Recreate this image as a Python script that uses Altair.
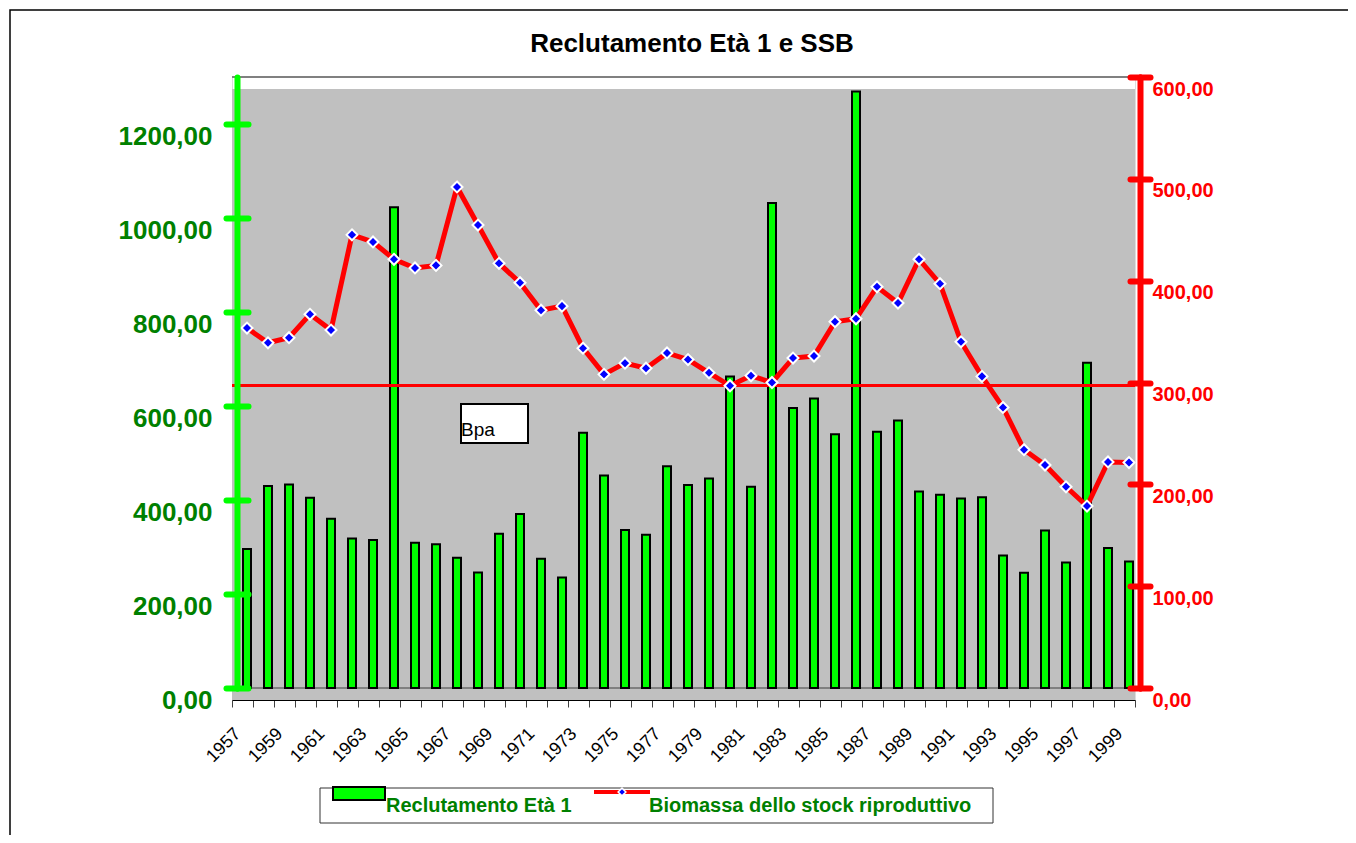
import altair as alt
import pandas as pd

# ---------------- data ----------------
years = ["1957", "1958", "1959", "1960", "1961", "1962", "1963", "1964", "1965", "1966",
         "1967", "1968", "1969", "1970", "1971", "1972", "1973", "1974", "1975", "1976",
         "1977", "1978", "1979", "1980", "1981", "1982", "1983", "1984", "1985", "1986",
         "1987", "1988", "1989", "1990", "1991", "1992", "1993", "1994", "1995", "1996",
         "1997", "1998", "1999"]
recruits = [296, 430, 433, 405, 360, 318, 315, 1023, 309, 306,
            277, 246, 328, 370, 275, 235, 543, 452, 336, 326,
            472, 432, 446, 663, 428, 1032, 596, 616, 540, 1269,
            545, 569, 418, 411, 403, 406, 282, 245, 335, 267,
            692, 298, 269]
ssb = [353.5, 339, 344, 367, 351.5, 445, 438, 421, 412.5, 415,
       492, 454.6, 417, 398, 371, 375, 333.7, 308, 319, 314,
       329, 322.5, 309.5, 296.8, 306.6, 300, 324, 326, 359.7, 362.6,
       394, 378, 421, 397, 340, 306, 275.5, 234, 219, 197.6,
       178.7, 222, 221.4]
bpa_value = 297
bpa_label = "Bpa"
left_ticks = [0, 200, 400, 600, 800, 1000, 1200]
right_ticks = [0, 100, 200, 300, 400, 500, 600]
left_domain = [0, 1300]
right_domain = [0, 600]
chart_title = "Reclutamento Età 1 e SSB"
series_names = ["Reclutamento Età 1", "Biomassa dello stock riproduttivo"]

df = pd.DataFrame({"year": years, "recruits": recruits, "ssb": ssb})
one = pd.DataFrame({"k": [0]})

W, H = 903, 623
YR = [611, 0]
FONT = "Liberation Sans"
GREEN = "#00FF00"
DGREEN = "#008000"
RED = "#FF0000"
FMT = "replace(format(datum.value, '.2f'), '.', ',')"

X = alt.X("year:O", title=None,
          scale=alt.Scale(paddingInner=0, paddingOuter=0),
          axis=alt.Axis(tickBand="extent", labelAngle=-45, labelAlign="right",
                        labelBaseline="middle", labelFontSize=18, labelColor="black",
                        labelExpr="toNumber(datum.value) % 2 == 1 ? datum.value : ''",
                        domainColor="black", domainWidth=1, tickColor="#404040",
                        tickSize=7, labelPadding=24, labelOffset=-5, labelFont=FONT,
                        zindex=1))

left_scale = alt.Scale(domain=left_domain, range=YR, nice=False, zero=True)
right_scale = alt.Scale(domain=right_domain, range=YR, nice=False, zero=True)

# ---------------- background ----------------
border = alt.Chart(one).mark_rect(fill=None, stroke="black", strokeWidth=1.5).encode(
    x=alt.value(-222), x2=alt.value(1400), y=alt.value(-67), y2=alt.value(900))
graybg = alt.Chart(one).mark_rect(color="#C0C0C0").encode(
    x=alt.value(0), x2=alt.value(W), y=alt.value(12), y2=alt.value(H))
topline = alt.Chart(one).mark_rule(color="#808080", strokeWidth=2).encode(
    x=alt.value(0), x2=alt.value(W), y=alt.value(0))
title = alt.Chart(one).mark_text(fontSize=26, fontWeight="bold", font=FONT, color="black",
                                 align="center", baseline="alphabetic").encode(
    x=alt.value(460), y=alt.value(-25), text=alt.value(chart_title))

# zero line on a copy of the left scale (its axis supplies inner tick halves)
zero = alt.Chart(one).mark_rule(color="#808080", strokeWidth=2).encode(
    y=alt.YDatum(0, type="quantitative", scale=left_scale,
                 axis=alt.Axis(orient="left", offset=-16, values=left_ticks, labels=False,
                               domain=False, tickColor=GREEN, tickWidth=6, tickSize=11,
                               tickCap="round", title=None, zindex=1)))

bars = alt.Chart(df).mark_bar(size=8, color=GREEN, stroke="black", strokeWidth=2,
                              xOffset=4.5).encode(
    x=X,
    y=alt.Y("recruits:Q", scale=left_scale, title=None,
            axis=alt.Axis(orient="left", offset=-5, values=left_ticks, labelExpr=FMT,
                          domainColor=GREEN, domainWidth=6, domainCap="round",
                          tickColor=GREEN, tickWidth=6, tickSize=11, tickCap="round",
                          labelColor=DGREEN, labelFontSize=26, labelFontWeight="bold",
                          labelFont=FONT, labelPadding=14, labelOffset=12, grid=False,
                          zindex=1)))

bpa = alt.Chart(one).mark_rule(color=RED, strokeWidth=3).encode(
    y=alt.YDatum(bpa_value, type="quantitative", scale=right_scale,
                 axis=alt.Axis(orient="right", offset=-5, values=right_ticks, labels=False,
                               domain=False, tickColor=RED, tickWidth=6, tickSize=10,
                               tickCap="round", title=None, zindex=1)))

line = alt.Chart(df).mark_line(color=RED, strokeWidth=5, xOffset=4.5).encode(
    x=X,
    y=alt.Y("ssb:Q", scale=right_scale, title=None,
            axis=alt.Axis(orient="right", offset=5, values=right_ticks, labelExpr=FMT,
                          domainColor=RED, domainWidth=6, domainCap="round",
                          tickColor=RED, tickWidth=6, tickSize=10, tickCap="round",
                          labelColor=RED, labelFontSize=20, labelFontWeight="bold",
                          labelFont=FONT, labelPadding=2, labelOffset=12, grid=False,
                          zindex=1)))

points = alt.Chart(df).mark_point(shape="diamond", filled=True, fill="#0000FF", stroke="white",
                                  strokeWidth=2, size=120, opacity=1, xOffset=4.5).encode(
    x=X, y=alt.Y("ssb:Q", scale=right_scale, axis=None))

# ---------------- Bpa annotation ----------------
bpa_box = alt.Chart(one).mark_rect(fill="white", stroke="black", strokeWidth=2).encode(
    x=alt.value(229), x2=alt.value(296), y=alt.value(327), y2=alt.value(366))
bpa_text = alt.Chart(one).mark_text(align="left", baseline="alphabetic", fontSize=19,
                                    font=FONT, color="black").encode(
    x=alt.value(229), y=alt.value(359), text=alt.value(bpa_label))

# ---------------- legend ----------------
leg_box = alt.Chart(one).mark_rect(fill="white", stroke="#333333", strokeWidth=1).encode(
    x=alt.value(88), x2=alt.value(761), y=alt.value(711), y2=alt.value(746))
leg_bar = alt.Chart(one).mark_rect(fill=GREEN, stroke="black", strokeWidth=2).encode(
    x=alt.value(101), x2=alt.value(153), y=alt.value(710), y2=alt.value(723))
leg_t1 = alt.Chart(one).mark_text(align="left", baseline="alphabetic", fontSize=20,
                                  fontWeight="bold", font=FONT, color=DGREEN).encode(
    x=alt.value(154), y=alt.value(735), text=alt.value(series_names[0]))
leg_line = alt.Chart(one).mark_rule(color=RED, strokeWidth=4).encode(
    x=alt.value(362), x2=alt.value(418), y=alt.value(715))
leg_pt = alt.Chart(one).mark_point(shape="diamond", filled=True, fill="#0000FF", stroke="white",
                                   strokeWidth=1.5, size=60, opacity=1).encode(
    x=alt.value(390), y=alt.value(715))
leg_t2 = alt.Chart(one).mark_text(align="left", baseline="alphabetic", fontSize=20,
                                  fontWeight="bold", font=FONT, color=DGREEN).encode(
    x=alt.value(417), y=alt.value(735), text=alt.value(series_names[1]))

chart = alt.layer(
    border, graybg, topline, title, zero, bars, bpa, line, points,
    bpa_box, bpa_text, leg_box, leg_bar, leg_t1, leg_line, leg_pt, leg_t2
).resolve_scale(y="independent").properties(
    width=W, height=H,
    autosize=alt.AutoSizeParams(type="none"),
    padding={"left": 224, "top": 69, "right": 213, "bottom": 135},
).configure_view(stroke=None, fill="white").configure(background="white", font=FONT)

chart.save("out.html", embed_options={"renderer": "svg", "actions": False})
